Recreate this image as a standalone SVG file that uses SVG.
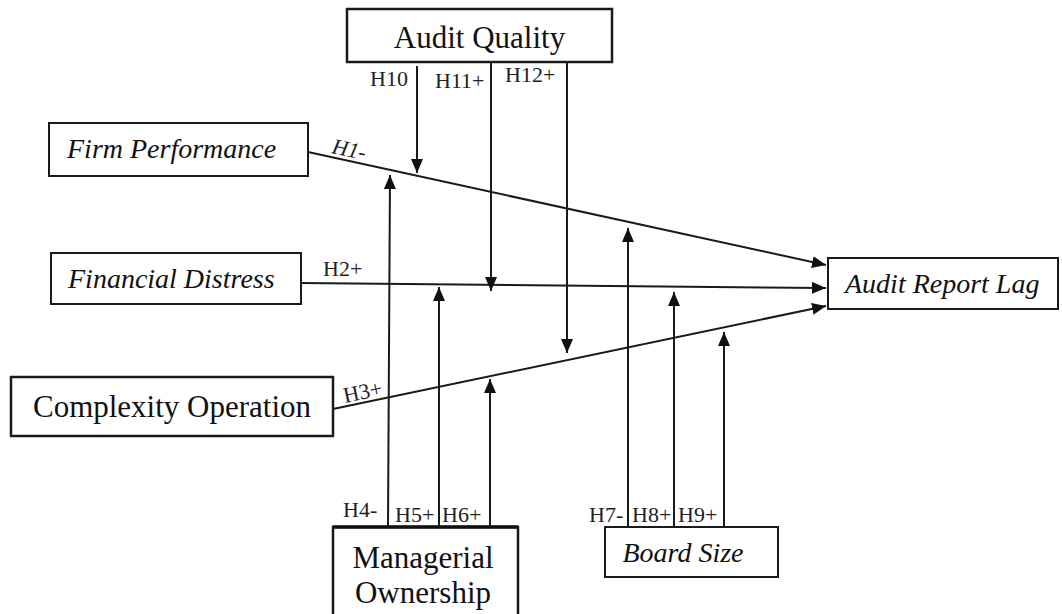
<svg xmlns="http://www.w3.org/2000/svg" width="1062" height="614" viewBox="0 0 1062 614">
<style>
.box{fill:#fff;stroke:#1a1a1a;stroke-width:2}
.thick{stroke-width:2.5}
.reg{font-family:"Liberation Serif","Times New Roman",serif;font-size:31px;fill:#111}
.ital{font-family:"Liberation Serif","Times New Roman",serif;font-size:28px;font-style:italic;fill:#111}
.lab{font-family:"Liberation Serif","Times New Roman",serif;font-size:22px;fill:#222}
.ln{stroke:#1a1a1a;stroke-width:2;fill:none}
</style>
<defs>
<marker id="ah" markerUnits="userSpaceOnUse" markerWidth="16" markerHeight="14" refX="14" refY="6" orient="auto">
<path d="M0,0 L14,6 L0,12 z" fill="#111"/>
</marker>
</defs>
<rect width="1062" height="614" fill="#fff"/>

<g id="connectors">
<line class="ln" x1="308" y1="152" x2="826" y2="265" marker-end="url(#ah)"/>
<line class="ln" x1="301" y1="283" x2="826" y2="288" marker-end="url(#ah)"/>
<line class="ln" x1="333" y1="409" x2="826" y2="306" marker-end="url(#ah)"/>
<line class="ln" x1="417" y1="66" x2="417" y2="173" marker-end="url(#ah)"/>
<line class="ln" x1="491" y1="62" x2="491" y2="291" marker-end="url(#ah)"/>
<line class="ln" x1="567" y1="62" x2="567" y2="353" marker-end="url(#ah)"/>
<line class="ln" x1="388" y1="527" x2="390" y2="175" marker-end="url(#ah)"/>
<line class="ln" x1="439" y1="527" x2="439" y2="287" marker-end="url(#ah)"/>
<line class="ln" x1="490" y1="527" x2="490" y2="379" marker-end="url(#ah)"/>
<line class="ln" x1="628" y1="527" x2="628" y2="228" marker-end="url(#ah)"/>
<line class="ln" x1="674" y1="527" x2="674" y2="292" marker-end="url(#ah)"/>
<line class="ln" x1="724" y1="527" x2="724" y2="332" marker-end="url(#ah)"/>
<text class="lab" font-style="italic" font-size="20" transform="translate(331,153) rotate(12)">H1-</text>
<text class="lab" x="323" y="276">H2+</text>
<text class="lab" font-size="20" transform="translate(345,403) rotate(-12)">H3+</text>
<text class="lab" x="343" y="517">H4-</text>
<text class="lab" x="395" y="522">H5+</text>
<text class="lab" x="442" y="522">H6+</text>
<text class="lab" x="589" y="522">H7-</text>
<text class="lab" x="632" y="522">H8+</text>
<text class="lab" x="678" y="522">H9+</text>
<text class="lab" x="370" y="86">H10</text>
<text class="lab" x="435" y="88">H11+</text>
<text class="lab" x="505" y="82">H12+</text>
</g>

<g id="audit-quality">
<rect class="box thick" x="347" y="9" width="265" height="53"/>
<text class="reg" x="479.5" y="48" text-anchor="middle">Audit Quality</text>
</g>
<g id="firm-performance">
<rect class="box" x="49" y="123" width="259" height="53"/>
<text class="ital" x="67" y="158">Firm Performance</text>
</g>
<g id="financial-distress">
<rect class="box" x="51" y="253" width="250" height="51"/>
<text class="ital" x="68" y="288">Financial Distress</text>
</g>
<g id="complexity-operation">
<rect class="box thick" x="11" y="377" width="322" height="59"/>
<text class="reg" x="172" y="417" text-anchor="middle">Complexity Operation</text>
</g>
<g id="audit-report-lag">
<rect class="box" x="828" y="258" width="230" height="51"/>
<text class="ital" x="845" y="293">Audit Report Lag</text>
</g>
<g id="managerial-ownership">
<rect class="box thick" x="333" y="527" width="185" height="95"/>
<line x1="333" y1="527" x2="518" y2="527" stroke="#111" stroke-width="3.5"/>
<text class="reg" x="423" y="568" text-anchor="middle">Managerial</text>
<text class="reg" x="423" y="603" text-anchor="middle">Ownership</text>
</g>
<g id="board-size">
<rect class="box" x="605" y="527" width="173" height="50"/>
<text class="ital" x="683" y="562" text-anchor="middle">Board Size</text>
</g>
</svg>
